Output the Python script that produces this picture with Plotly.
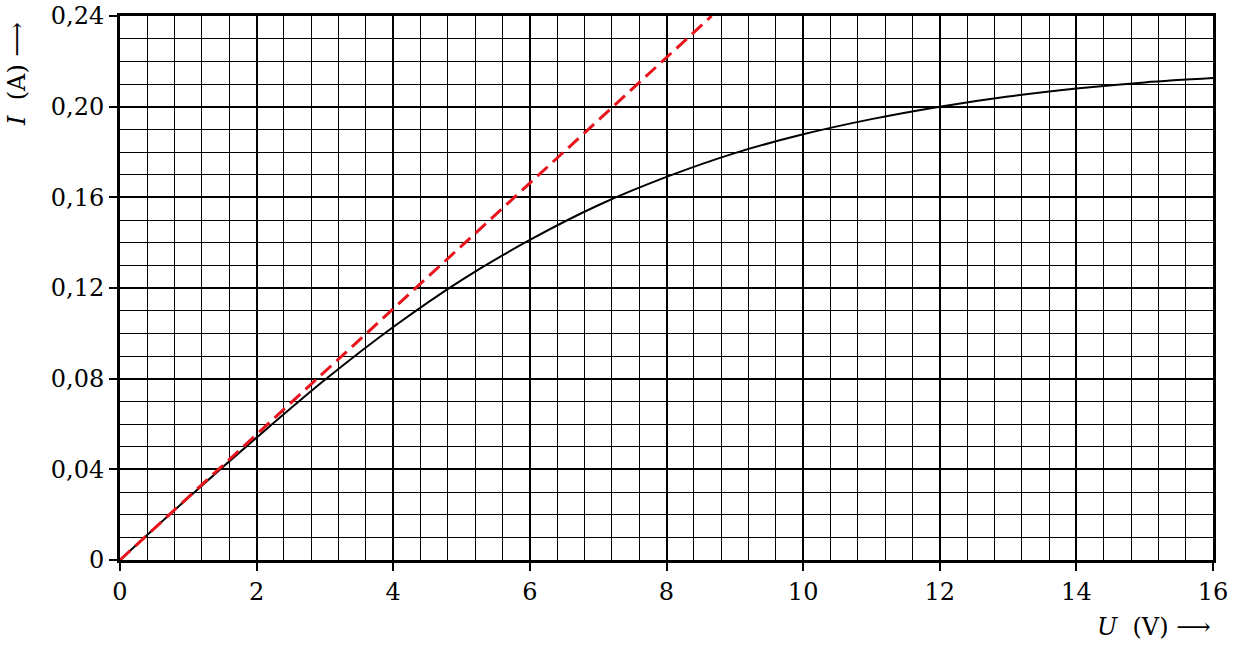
import plotly.graph_objects as go

# Data
U_curve = [0, 1, 2, 3, 4, 5, 6, 7, 8, 9, 10, 11, 12, 13, 14, 15, 16]
I_curve = [0, 0.0275, 0.054, 0.0795, 0.1028, 0.1235, 0.1412, 0.1565, 0.169, 0.1795,
           0.1878, 0.1945, 0.200, 0.2045, 0.208, 0.2107, 0.2126]

U_tangent = [0, 8.66]
I_tangent = [0, 0.24]

x_tickvals = [0, 2, 4, 6, 8, 10, 12, 14, 16]
x_ticktext = ["0", "2", "4", "6", "8", "10", "12", "14", "16"]
y_tickvals = [0, 0.04, 0.08, 0.12, 0.16, 0.20, 0.24]
y_ticktext = ["0", "0,04", "0,08", "0,12", "0,16", "0,20", "0,24"]

FONT = "DejaVu Serif"
FS = 24

fig = go.Figure()
fig.add_trace(go.Scatter(x=U_curve, y=I_curve, mode="lines",
                         line=dict(color="black", width=2, shape="spline", smoothing=1.0),
                         hoverinfo="skip"))
fig.add_trace(go.Scatter(x=U_tangent, y=I_tangent, mode="lines",
                         line=dict(color="#e8141c", width=3, dash="14px,7px"),
                         hoverinfo="skip"))

axis_common = dict(
    showline=True, linecolor="black", linewidth=3, mirror=True,
    showgrid=True, gridcolor="black", gridwidth=2,
    ticks="outside", ticklen=8, tickwidth=2, tickcolor="black",
    zeroline=False, automargin=False, ticklabeloverflow="allow",
    tickfont=dict(family=FONT, size=FS, color="black"),
)

fig.update_xaxes(range=[0, 16], tickvals=x_tickvals, ticktext=x_ticktext,
                 minor=dict(dtick=0.4, tick0=0, showgrid=True, gridcolor="black",
                            gridwidth=1, ticks=""),
                 **axis_common)
fig.update_yaxes(range=[0, 0.24], tickvals=y_tickvals, ticktext=y_ticktext,
                 minor=dict(dtick=0.01, tick0=0, showgrid=True, gridcolor="black",
                            gridwidth=1, ticks=""),
                 **axis_common)

# plot area spans pixels x 120..1213, y 16..560 in the page
fig.add_annotation(text="<i>I</i>\u00a0\u00a0(A)\u00a0⟶", xref="paper", yref="paper",
                   x=(17 - 120) / 1093, y=(560 - 74) / 544, textangle=-90,
                   xanchor="center", yanchor="middle", showarrow=False,
                   font=dict(family=FONT, size=FS, color="black"))
fig.add_annotation(text="<i>U</i>\u00a0\u00a0(V)\u00a0⟶", xref="paper", yref="paper",
                   x=1.0, y=(560 - 627) / 544, xanchor="right", yanchor="middle",
                   showarrow=False, font=dict(family=FONT, size=FS, color="black"))

fig.update_layout(
    width=1246, height=645,
    margin=dict(l=120, r=33, t=16, b=85, autoexpand=False),
    paper_bgcolor="white", plot_bgcolor="white",
    showlegend=False,
    font=dict(family=FONT, color="black"),
)

fig.write_html("out.html",
               config={"displayModeBar": False, "staticPlot": True},
               post_script="document.body.style.margin='0px';document.body.style.overflow='hidden';")
